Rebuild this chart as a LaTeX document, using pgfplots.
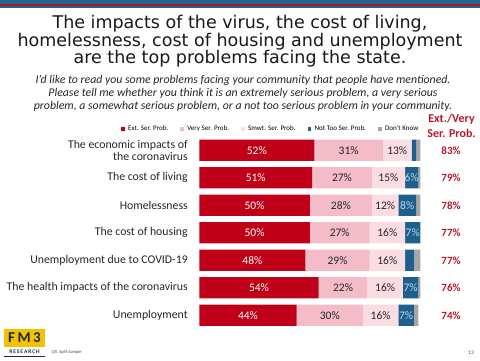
\documentclass[border=0pt]{standalone}
\usepackage{pgfplots}
\pgfplotsset{compat=1.18}
\usepackage{pgfplotstable}
\usepackage{fontspec}
\setmainfont{Carlito}
\newfontfamily\titlefont{DejaVu Sans}
\definecolor{cExt}{HTML}{C00018}
\definecolor{cVery}{HTML}{F4BCC8}
\definecolor{cSmwt}{HTML}{FBDCE2}
\definecolor{cNot}{HTML}{1F5F8B}
\definecolor{cDK}{HTML}{A6A6A6}
\definecolor{hBlue}{HTML}{1F6491}
\definecolor{hRed}{HTML}{B5121B}
\definecolor{txt}{HTML}{262626}
\definecolor{rcol}{HTML}{C0172A}
\definecolor{navy}{HTML}{1B2A4A}
\definecolor{logoY}{HTML}{F2C200}
\definecolor{ltb}{HTML}{BDD7EE}
\pgfplotstableread{
y ext very smwt nottoo dk
6 52 31 13 2 2
5 51 27 15 6 1
4 50 28 12 8 2
3 50 27 16 7 0
2 48 29 16 4 3
1 54 22 16 7 1
0 44 30 16 7 2
}\data
% label positions (segment centres) and texts
\pgfplotstableread{
x y lab
26 6 52
25.5 5 51
25 4 50
25 3 50
24 2 48
27 1 54
22 0 44
}\labW
\pgfplotstableread{
x y lab
67.5 6 31
89.5 6 13
64.5 5 27
85.5 5 15
64 4 28
84 4 12
63.5 3 27
85 3 16
62.5 2 29
85 2 16
65 1 22
84 1 16
59 0 30
82 0 16
}\labD
\pgfplotstableread{
x y lab
96 5 6
94 4 8
96.5 3 7
95.5 1 7
93.5 0 7
}\labB
\pgfplotstableread{
x y lab
113.8 6 83
113.8 5 79
113.8 4 78
113.8 3 77
113.8 2 77
113.8 1 76
113.8 0 74
}\labR
\pgfplotsset{
  common/.style={at={(199.3pt,30.95pt)}, anchor=south west,
    scale only axis, width=221.2pt, height=192.5pt,
    xmin=0, xmax=100, ymin=-0.5, ymax=6.5, clip=false},
  lbl/.style={draw=none, mark=none, nodes near coords=\pgfplotspointmeta\%,
    point meta=explicit symbolic,
    every node near coord/.append style={anchor=center, inner sep=0pt, #1}},
}
\begin{document}
\begin{tikzpicture}
\useasboundingbox (0pt,0pt) rectangle (480pt,360pt);
\fill[white] (0pt,0pt) rectangle (480pt,360pt);
% header stripes
\fill[hBlue] (0pt,352.5pt) rectangle (480pt,360pt);
\fill[hRed] (0pt,354.5pt) rectangle (480pt,356.5pt);
% title
\node[align=center, font=\titlefont\fontsize{17.5}{17.6}\selectfont, text=black!90] at (240pt,318.5pt)
  {The impacts of the virus, the cost of living,\\homelessness, cost of housing and unemployment\\are the top problems facing the state.};
\node[align=center, font=\itshape\fontsize{11.8}{13}\selectfont, text=txt] at (243pt,267pt)
  {I'd like to read you some problems facing your community that people have mentioned.\\Please tell me whether you think it is an extremely serious problem, a very serious\\problem, a somewhat serious problem, or a not too serious problem in your community.};
\begin{axis}[
  common,
  xbar stacked, bar width=21.3pt,
  hide x axis,
  axis y line*=left, y axis line style={draw=none},
  ytick={0,...,6}, ytick style={draw=none},
  yticklabels={Unemployment, The health impacts of the coronavirus, Unemployment due to COVID-19, The cost of housing, Homelessness, The cost of living, {The economic impacts of\\the coronavirus}},
  yticklabel style={align=right, font=\fontsize{11.8}{12.5}\selectfont, text=txt, xshift=-8pt},
  legend columns=5,
  legend style={at={(1,1)}, anchor=south east, yshift=2pt, draw=none, fill=none,
    font=\fontsize{7}{7}\selectfont, column sep=1.5pt, inner sep=0pt,
    /tikz/every even column/.append style={column sep=10pt}},
  legend image code/.code={\fill[#1] (0pt,-1.8pt) rectangle (3.6pt,1.8pt);},
]
\addplot[fill=cExt, draw=none] table[x=ext, y=y] {\data};
\addplot[fill=cVery, draw=none] table[x=very, y=y] {\data};
\addplot[fill=cSmwt, draw=none] table[x=smwt, y=y] {\data};
\addplot[fill=cNot, draw=none] table[x=nottoo, y=y] {\data};
\addplot[fill=cDK, draw=none] table[x=dk, y=y] {\data};
\legend{Ext. Ser. Prob., Very Ser. Prob., Smwt. Ser. Prob., Not Too Ser. Prob., Don't Know}
\end{axis}
\begin{axis}[common, hide axis]
\addplot[lbl={text=white, font=\fontsize{11.5}{12}\selectfont}] table[x=x, y=y, meta=lab] {\labW};
\addplot[lbl={text=txt, font=\fontsize{11.5}{12}\selectfont}] table[x=x, y=y, meta=lab] {\labD};
\addplot[lbl={text=ltb, font=\fontsize{11.5}{12}\selectfont}] table[x=x, y=y, meta=lab] {\labB};
\addplot[lbl={text=rcol, font=\bfseries\fontsize{11}{12}\selectfont}] table[x=x, y=y, meta=lab] {\labR};
\end{axis}
\node[align=center, font=\bfseries\fontsize{12}{15}\selectfont, text=rcol] at (451.5pt,234pt) {Ext./Very\\Ser. Prob.};
% footer
\fill[logoY] (4pt,13.5pt) rectangle (45pt,31pt);
\node[font=\bfseries\fontsize{15}{15}\selectfont, text=navy] at (24.5pt,22pt) {F\,M\,3};
\node[font=\bfseries\fontsize{5.5}{6}\selectfont, text=navy] at (24.5pt,8.5pt) {R\,E\,S\,E\,A\,R\,C\,H};
\draw[navy, line width=0.8pt] (4pt,3.5pt) -- (45pt,3.5pt);
\node[anchor=west, font=\itshape\fontsize{4.5}{5}\selectfont, text=black!70] at (48pt,8pt) {Q8. Split Sample};
\node[font=\fontsize{5.5}{6}\selectfont, text=black!70] at (471pt,7pt) {13};
\end{tikzpicture}
\end{document}
